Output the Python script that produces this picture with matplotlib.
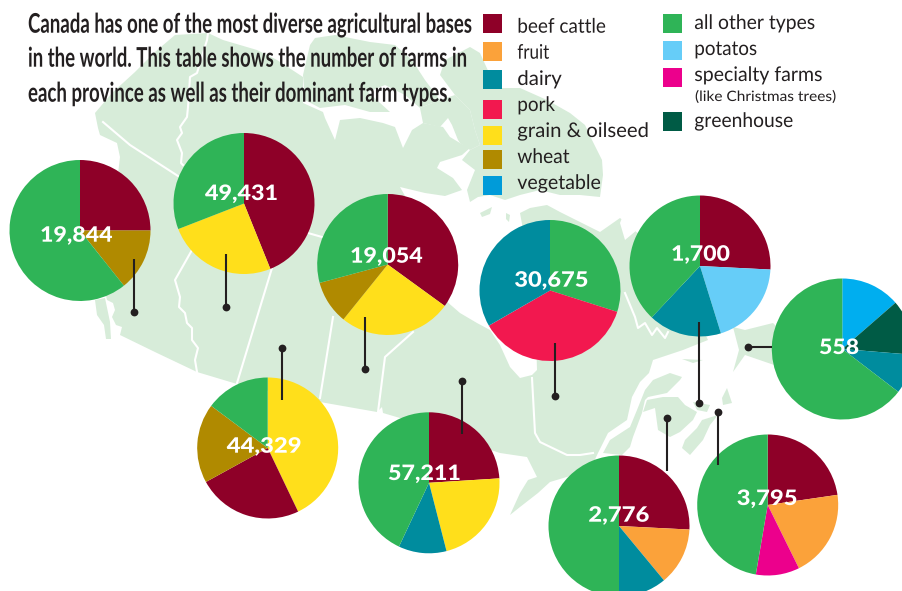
import matplotlib
matplotlib.use("Agg")
import matplotlib.pyplot as plt
from matplotlib.patches import Polygon, Rectangle
from matplotlib.patheffects import AbstractPathEffect
from matplotlib.text import Text
from matplotlib.transforms import Affine2D

W, H = 903, 591
SANS = 'Lato'

# ---------- data ----------
farm_types = ['beef cattle', 'fruit', 'dairy', 'pork', 'grain & oilseed', 'wheat', 'vegetable',
              'all other types', 'potatos', 'specialty farms', 'greenhouse']
type_colors = {'beef cattle': '#8E0028', 'fruit': '#FBA23A', 'dairy': '#008C9E', 'pork': '#F2184F',
               'grain & oilseed': '#FFDF1B', 'wheat': '#B08A00', 'vegetable': '#00AEEF',
               'all other types': '#2FB457', 'potatos': '#66CDF8', 'specialty farms': '#EC008C',
               'greenhouse': '#005B45'}

farm_counts = ['19,844', '49,431', '19,054', '44,329', '57,211', '30,675', '1,700', '558', '2,776', '3,795']

bc_types = ['beef cattle', 'wheat', 'all other types']
bc_share = [25.0, 14.3, 60.7]
ab_types = ['beef cattle', 'grain & oilseed', 'all other types']
ab_share = [43.9, 25.2, 30.9]
sk_types = ['beef cattle', 'grain & oilseed', 'wheat', 'all other types']
sk_share = [35.0, 25.8, 10.0, 29.2]
mb_types = ['grain & oilseed', 'beef cattle', 'wheat', 'all other types']
mb_share = [42.9, 24.1, 18.2, 14.8]
on_types = ['beef cattle', 'grain & oilseed', 'dairy', 'all other types']
on_share = [24.0, 22.0, 11.0, 43.0]
qc_types = ['all other types', 'pork', 'dairy']
qc_share = [29.9, 36.8, 33.3]
pe_types = ['beef cattle', 'potatos', 'dairy', 'all other types']
pe_share = [25.8, 19.4, 16.8, 38.0]
nl_types = ['vegetable', 'greenhouse', 'dairy', 'all other types']
nl_share = [13.6, 12.7, 9.1, 64.6]
nb_types = ['beef cattle', 'fruit', 'dairy', 'all other types']
nb_share = [25.8, 13.2, 11.0, 50.0]
ns_types = ['beef cattle', 'fruit', 'specialty farms', 'all other types']
ns_share = [22.7, 20.0, 10.0, 47.3]

pie_types = [bc_types, ab_types, sk_types, mb_types, on_types, qc_types, pe_types, nl_types, nb_types, ns_types]
pie_shares = [bc_share, ab_share, sk_share, mb_share, on_share, qc_share, pe_share, nl_share, nb_share, ns_share]

title_lines = ['Canada has one of the most diverse agricultural bases',
               'in the world. This table shows the number of farms in',
               'each province as well as their dominant farm types.']
legend_note = '(like Christmas trees)'

# ---------- layout (pixels, y downward) ----------
pie_centers = [(80, 230.5), (244, 203.5), (387.7, 264.5), (267.7, 448), (429, 482.8),
               (550, 290.5), (700, 266), (842.3, 349), (619, 526), (767.7, 505)]
# x start, x end, baseline
label_pos = [(40, 112.7, 241.7), (205, 278, 200), (350, 422.7, 262.7), (226.7, 301.7, 452.7), (388, 460.7, 480),
             (514.3, 588.3, 286.7), (671, 730, 260.7), (819, 859, 354), (588.3, 649.3, 521.7), (736.7, 797.3, 505)]
stems = [((134, 259), (134, 312)), ((225.6, 254), (225.6, 307)), ((365, 317), (365, 369)),
         ((281.7, 400), (281.7, 347.5)), ((462, 434), (462, 381)), ((554.7, 343), (554.7, 396)),
         ((698.7, 322), (698.7, 403)), ((771.7, 347.3), (747.7, 347.3)), ((667, 471), (667, 418)),
         ((717.7, 465), (717.7, 412))]

title_pos = [(28, 472, 32.7), (28, 467, 66.7), (28, 452, 101.7)]
# square x, square y, text start, text end, baseline
legend_pos = [(483, 14, 517.3, 605.7, 32.7), (483, 42, 517.3, 549.3, 58.7), (483, 70, 517.3, 561.7, 85),
              (483, 100, 517.3, 555, 111), (483, 126, 517.3, 649, 137), (483, 150, 517.3, 569.3, 163),
              (483, 176, 517.3, 600.7, 189),
              (663, 14, 694.3, 815, 29), (663, 41, 694.3, 756.7, 55), (663, 68, 694.3, 822.3, 81),
              (663, 112, 694.3, 793.3, 127)]
note_pos = (695, 835.7, 101)

MAP = '#D7ECD9'
mainland = [(95,113),(112,93),(135,72),(155,52),(175,35),(208,33),(223,40),(257,50),(277,60),(303,77),(303,103),
            (323,112),(325,118),(335,140),(340,120),(360,118),(383,123),(395,127),(403,148),(412,130),(423,123),
            (443,127),(450,137),(460,143),(470,148),(462,155),(440,162),(437,168),(453,178),(462,190),(445,196),
            (425,193),(400,187),(430,240),(445,300),(460,313),(477,323),(490,330),(500,345),(510,367),(520,378),
            (532,375),(537,370),(535,300),(525,240),(520,213),(530,208),(547,205),(560,212),(580,222),(600,232),
            (620,218),(640,235),(680,280),(708,340),(683,350),(653,360),(649,373),(640,382),(632,397),(627,420),
            (608,433),(598,453),(590,470),(550,482),(538,493),(520,507),(510,515),(520,493),(528,480),(537,477),
            (527,457),(500,453),(430,430),(400,418),(383,413),(382,407),(377,412),(320,402),(237,384),(197,372),
            (157,353),(120,335),(122,327),(116,325),(112,317),(115,310),(113,303),(107,300),(100,270),(115,200),
            (120,157),(117,143),(100,135),(98,128)]
islands = [
    [(310,45),(315,38),(335,35),(370,42),(395,45),(412,60),(425,80),(440,100),(420,108),(405,95),(385,85),(368,92),(390,112),(370,112),(345,105),(320,108),(305,100),(303,75)],
    [(470,47),(480,53),(490,75),(500,88),(520,88),(547,100),(570,113),(585,125),(592,140),(602,160),(603,175),(600,197),(580,195),(560,195),(540,190),(520,195),(505,200),(490,195),(478,197),(470,202),(467,190),(475,170),(462,160),(470,150),(480,145),(475,130),(470,110),(455,95),(440,75),(445,60)],
    [(420,108),(440,100),(455,95),(470,110),(475,130),(480,145),(470,150),(460,143),(458,140),(452,125),(448,118),(440,127),(423,123)],
    [(480,213),(492,207),(490,214),(482,217)],
    [(506,213),(510,215),(509,222),(506,219)],
    [(95,300),(105,298),(110,322),(111,339),(106,339),(104,325),(97,315)],
    [(682,377),(670,373),(653,380),(645,390),(637,410),(630,427),(610,440),(603,453),(622,455),(630,447),(633,437),(642,413),(645,400),(648,397),(667,393),(672,388),(680,380)],
    [(647,400),(643,412),(655,408),(658,430),(670,437),(680,432),(693,420),(697,412),(685,405),(678,397),(663,397)],
    [(682,448),(685,440),(697,428),(702,420),(718,415),(710,425),(703,440),(690,455)],
    [(693,402),(710,405),(707,412),(697,410)],
    [(727,388),(732,403),(723,405),(722,398)],
    [(682,359),(703,360),(693,363)],
    [(733,327),(745,330),(773,323),(790,340),(780,367),(745,355),(733,372),(739,350)],
]
province_lines = [
    [(103,122),(130,145),(178,176),(244,210),(308,233),(322,237)],
    [(208,33),(207,40),(197,73),(190,77),(188,107),(187,117),(180,127),(182,133),(177,140),(182,153),(181,163),(183,165)],
    [(192,250),(175,280),(180,297),(179,307),(185,313),(187,323),(192,328),(192,340),(198,348),(195,360),(197,372)],
    [(272,268),(237,383)],
    [(333,317),(320,398)],
    [(413,332),(385,357),(378,412)],
    [(532,378),(535,433),(540,442),(567,455),(580,455),(593,453)],
    [(625,293),(635,317),(638,328),(645,323),(652,335),(657,328),(665,338),(668,332)],
]
ungava = [(622,218),(637,230),(625,240),(620,223)]


def Y(y):
    return H - y


def pts(seq):
    return [(x, Y(y)) for x, y in seq]


class Fit(AbstractPathEffect):
    """Scale glyphs about the text's baseline start, standing in for a condensed face."""
    def __init__(self, sx, sy, x0, y0):
        super().__init__()
        self.sx, self.sy, self.x0, self.y0 = sx, sy, x0, y0

    def draw_path(self, renderer, gc, tpath, affine, rgbFace=None):
        a = affine + Affine2D().translate(-self.x0, -self.y0).scale(self.sx, self.sy).translate(self.x0, self.y0)
        renderer.draw_path(gc, tpath, a, rgbFace)


fig = plt.figure(figsize=(W / 100, H / 100), dpi=100, facecolor='white')
ax = fig.add_axes([0, 0, 1, 1])
ax.set_xlim(0, W)
ax.set_ylim(0, H)
renderer = fig.canvas.get_renderer()


def fit_text(x0, x1, base, s, look_size=None, **kw):
    """Real text, drawn to span x0..x1 px; look_size sets its drawn height in points."""
    t = ax.text(x0, Y(base), s, ha='left', va='baseline', zorder=5, **kw)
    nat = t.get_window_extent(renderer).width
    size = t.get_fontsize()
    sy = (look_size or size) / size
    t.set_path_effects([Fit((x1 - x0) / nat, sy, x0, Y(base))])
    return t


# map
ax.add_patch(Polygon(pts(mainland), closed=True, fc=MAP, ec='none', zorder=1))
for isl in islands:
    ax.add_patch(Polygon(pts(isl), closed=True, fc=MAP, ec='none', zorder=1))
ax.add_patch(Polygon(pts(ungava), closed=True, fc='white', ec='none', zorder=1.5))
for line in province_lines:
    xs, ys = zip(*pts(line))
    ax.plot(xs, ys, color='white', lw=1.5, zorder=2, solid_joinstyle='round')

# pies
for ty, sh, (cx, cy) in zip(pie_types, pie_shares, pie_centers):
    wedges, _ = ax.pie(sh, colors=[type_colors[t] for t in ty], startangle=90, counterclock=False,
                       center=(cx, Y(cy)), radius=70.5, frame=True, wedgeprops=dict(linewidth=0))
    for w in wedges:
        w.set_zorder(3)

# stems
for (a, b) in stems:
    ax.plot([a[0], b[0]], [Y(a[1]), Y(b[1])], color='#231F20', lw=1.5, zorder=4, solid_capstyle='butt')
    ax.plot([b[0]], [Y(b[1])], 'o', color='#231F20', ms=5.6, mew=0, zorder=4)

# pie labels
for txt, (x0, x1, base) in zip(farm_counts, label_pos):
    fit_text(x0, x1, base, txt, color='white', fontsize=15.3, fontweight='black', family=SANS)

# title
for line, (x0, x1, base) in zip(title_lines, title_pos):
    fit_text(x0, x1, base, line, look_size=19.5, color='#231F20', fontsize=14.5, fontweight='bold', family=SANS)

# legend
legend_fill = dict(type_colors)
legend_fill['vegetable'] = '#009BD9'
for name, (sx, sy, x0, x1, base) in zip(farm_types, legend_pos):
    ax.add_patch(Rectangle((sx, Y(sy + 19)), 19, 19, fc=legend_fill[name], ec='none', zorder=5))
    fit_text(x0, x1, base, name, color='#231F20', fontsize=14.5, family=SANS)
fit_text(note_pos[0], note_pos[1], note_pos[2], legend_note, color='#231F20', fontsize=10.3, family=SANS)

ax.set_xlim(0, W)
ax.set_ylim(0, H)
ax.axis('off')
fig.savefig('out.png', dpi=100, facecolor='white')
